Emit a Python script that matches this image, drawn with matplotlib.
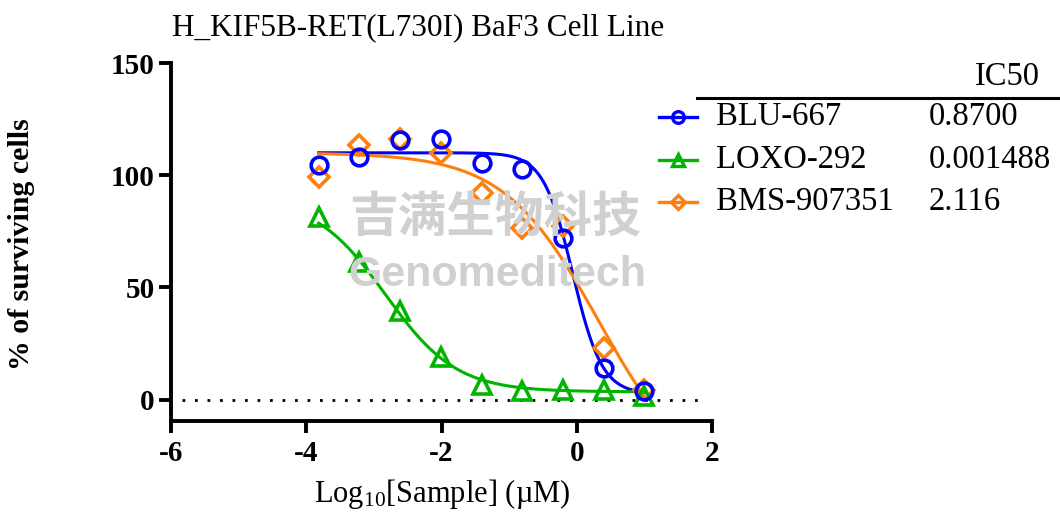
import matplotlib
matplotlib.use("Agg")
import matplotlib.pyplot as plt
from matplotlib.lines import Line2D
import numpy as np

# log10 concentration (uM), 4-fold dilution from 10 uM
LOG_CONC = [-3.816, -3.214, -2.612, -2.010, -1.408, -0.806, -0.204, 0.398, 1.000]

BLU_667 = [104.5, 108.2, 115.7, 116.1, 105.3, 102.6, 71.9, 14.1, 3.7]
LOXO_292 = [81.2, 61.5, 39.3, 19.0, 6.4, 3.7, 4.4, 4.4, 1.5]
BMS_907351 = [99.3, 113.4, 116.0, 109.7, 92.2, 76.4, 77.4, 23.0, 4.4]

DRUGS = ["BLU-667", "LOXO-292", "BMS-907351"]
IC50 = [0.8700, 0.001488, 2.116]
IC50_TEXT = ["0.8700", "0.001488", "2.116"]

# 4PL fit parameters
TOP = [110.0, 90.0, 110.0]
BOTTOM = [2.5, 3.5, -40.0]
HILL = [2.0, 0.83, 0.62]

COLORS = ["#0000ff", "#00b400", "#ff7f0e"]
MARKERS = ["o", "^", "D"]
MSIZE = [12, 13, 10.5]

plt.rcParams["font.family"] = ["Liberation Serif", "DejaVu Serif"]
plt.rcParams["mathtext.fontset"] = "custom"
plt.rcParams["mathtext.rm"] = "Liberation Serif"
plt.rcParams["mathtext.it"] = "Liberation Serif:italic"
plt.rcParams["axes.unicode_minus"] = False


def four_pl(x, top, bottom, log_ic50, hill):
    return bottom + (top - bottom) / (1 + 10 ** ((x - log_ic50) * hill))


fig = plt.figure(figsize=(10.6, 5.16), dpi=100)
W, H = 1060, 516

# faint watermark
fig.text(495 / W, 1 - 218 / H, "吉满生物科技", fontsize=35, fontweight="bold",
         family=["Noto Sans CJK SC"], color="#d0d0d0", ha="center", va="center", zorder=0)
fig.text(497 / W, 1 - 275 / H, "Genomeditech", fontsize=31, fontweight="bold",
         family=["Liberation Sans"], color="#d0d0d0", ha="center", va="center", zorder=0)

ax = fig.add_axes([171 / W, 1 - 421 / H, (712 - 171) / W, (421 - 63) / H])
ax.patch.set_alpha(0)

series = [BLU_667, LOXO_292, BMS_907351]
xs = np.linspace(LOG_CONC[0], LOG_CONC[-1], 300)
for i, name in enumerate(DRUGS):
    ax.plot(xs, four_pl(xs, TOP[i], BOTTOM[i], np.log10(IC50[i]), HILL[i]),
            color=COLORS[i], lw=2.2, zorder=2 + i * 0.1)
# markers: orange first, blue on top
for i in [2, 1, 0]:
    ax.plot(LOG_CONC, series[i], ls="none", marker=MARKERS[i], ms=MSIZE[i],
            mfc="none", mec=COLORS[i], mew=2.6, zorder=4)

ax.axhline(0, xmin=0.02, xmax=0.99, color="black", ls=(0, (1, 3.5)), lw=2, zorder=1)

ax.set_xlim(-6, 2)
ax.set_ylim(-9.5, 150)
ax.set_xticks([-6, -4, -2, 0, 2])
ax.set_yticks([0, 50, 100, 150])
ax.spines["top"].set_visible(False)
ax.spines["right"].set_visible(False)
for s in ["left", "bottom"]:
    ax.spines[s].set_linewidth(2.8)
ax.tick_params(axis="both", width=2.8, length=8.6, labelsize=21)
ax.tick_params(axis="y", pad=3)
ax.tick_params(axis="x", pad=5)
for lbl in ax.get_xticklabels() + ax.get_yticklabels():
    lbl.set_fontweight("bold")

fig.text(22 / W, 1 - 244 / H, "% of surviving cells", rotation=90, fontsize=21.5,
         fontweight="bold", ha="center", va="center")
fig.text(442 / W, 1 - 501.7 / H, "Log$_{10}$[Sample] (µM)", fontsize=22,
         ha="center", va="baseline")
fig.text(418 / W, 1 - 35 / H, "H_KIF5B-RET(L730I) BaF3 Cell Line", fontsize=22.5,
         ha="center", va="baseline")

# legend table with IC50 column
fig.text(1040 / W, 1 - 77 / H, "IC50", fontsize=23.5, ha="right", va="center")
fig.add_artist(Line2D([697 / W, 1.0], [1 - 97.7 / H] * 2, color="black", lw=2.2,
                      transform=fig.transFigure))
row_y = [117, 160, 202]
for i, name in enumerate(DRUGS):
    yy = 1 - row_y[i] / H
    fig.add_artist(Line2D([659 / W, 697 / W], [yy, yy], color=COLORS[i], lw=2.4,
                          transform=fig.transFigure))
    fig.add_artist(Line2D([678 / W], [yy], ls="none", marker=MARKERS[i],
                          ms=MSIZE[i] * 0.7, mfc="none", mec=COLORS[i], mew=2.4,
                          transform=fig.transFigure))
    fig.text(716 / W, yy, name, fontsize=23.5, ha="left", va="center")
    fig.text(929 / W, yy, IC50_TEXT[i], fontsize=23.5, ha="left", va="center")

fig.savefig("out.png", dpi=100)
